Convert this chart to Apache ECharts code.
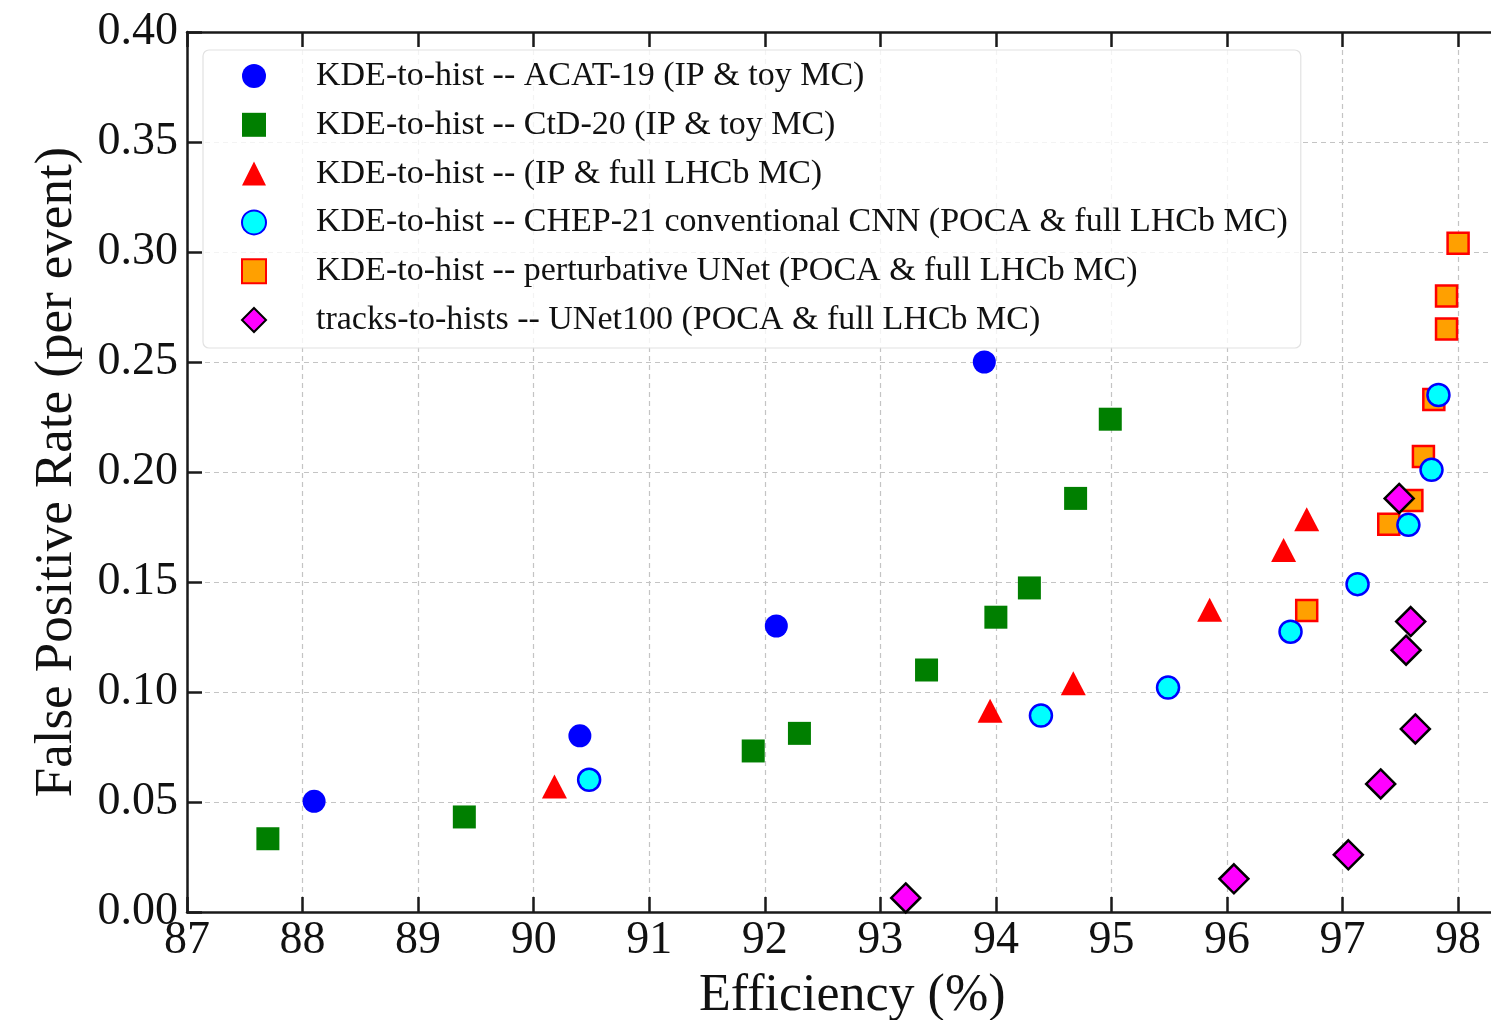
<!DOCTYPE html>
<html>
<head>
<meta charset="utf-8">
<script src="https://cdn.jsdelivr.net/npm/echarts@6/dist/echarts.min.js"></script>
<style>
html,body{margin:0;padding:0;background:#fff;}
#chart{width:1491px;height:1020px;}
</style>
</head>
<body>
<div id="chart"></div>
<script>
// ---- data ----
const seriesNames = [
  'KDE-to-hist -- ACAT-19 (IP & toy MC)',
  'KDE-to-hist -- CtD-20 (IP & toy MC)',
  'KDE-to-hist -- (IP & full LHCb MC)',
  'KDE-to-hist -- CHEP-21 conventional CNN (POCA & full LHCb MC)',
  'KDE-to-hist -- perturbative UNet (POCA & full LHCb MC)',
  'tracks-to-hists -- UNet100 (POCA & full LHCb MC)'
];
const acatEff = [88.10, 90.40, 92.10, 93.90];
const acatFpr = [0.0503, 0.0801, 0.130, 0.250];
const ctdEff = [87.70, 89.40, 91.90, 92.30, 93.40, 94.00, 94.29, 94.69, 94.99];
const ctdFpr = [0.0333, 0.0432, 0.0732, 0.0812, 0.110, 0.134, 0.1473, 0.188, 0.224];
const ipFullEff = [90.18, 93.95, 94.67, 95.85, 96.49, 96.69];
const ipFullFpr = [0.0571, 0.0915, 0.104, 0.1374, 0.1645, 0.1785];
const chepEff = [90.48, 94.39, 95.49, 96.55, 97.13, 97.57, 97.77, 97.83];
const chepFpr = [0.0601, 0.0893, 0.102, 0.1274, 0.149, 0.176, 0.201, 0.235];
const pertEff = [96.69, 97.40, 97.60, 97.70, 97.79, 97.90, 97.90, 98.00];
const pertFpr = [0.1371, 0.1762, 0.187, 0.207, 0.233, 0.265, 0.280, 0.304];
const unetEff = [93.22, 96.06, 97.05, 97.33, 97.63, 97.55, 97.59, 97.49];
const unetFpr = [0.0064, 0.0151, 0.026, 0.0582, 0.0832, 0.119, 0.132, 0.188];
const xTicks = [87, 88, 89, 90, 91, 92, 93, 94, 95, 96, 97, 98];
const yTicks = [0.00, 0.05, 0.10, 0.15, 0.20, 0.25, 0.30, 0.35, 0.40];

const zip = (xs, ys) => xs.map((x, i) => [x, ys[i]]);
const FONT = '"Liberation Serif", "DejaVu Serif", serif';

const chart = echarts.init(document.getElementById('chart'), null, {renderer: 'canvas'});

const axisLineStyle = {color: '#1a1a1a', width: 2.5};
const gridLine = {show: true, lineStyle: {color: '#c4c4c4', width: 1.2, type: [5, 4]}};

const option = {
  backgroundColor: '#ffffff',
  animation: false,
  grid: {left: 187, top: 32, width: 1330.6, height: 880, containLabel: false, outerBoundsMode: 'none'},
  legend: {
    orient: 'vertical',
    left: 203, top: 50,
    padding: [9, 13, 11, 38],
    itemWidth: 24, itemHeight: 24,
    itemGap: 14.8,
    backgroundColor: 'rgba(255,255,255,0.8)',
    borderColor: '#e2e2e2', borderWidth: 1.2, borderRadius: 6,
    selectedMode: false,
    textStyle: {fontFamily: FONT, fontSize: 34, color: '#111', lineHeight: 34, padding: [0, 0, 0, 45]},
    data: seriesNames
  },
  xAxis: [{
    type: 'value', min: 87, max: 98.515, interval: 1,
    position: 'bottom',
    name: 'Efficiency (%)', nameLocation: 'middle', nameGap: 58,
    nameTextStyle: {fontFamily: FONT, fontSize: 52, color: '#111'},
    axisLine: {show: true, lineStyle: axisLineStyle},
    axisTick: {show: true, inside: true, length: 15, lineStyle: {color: '#1a1a1a', width: 2.5}},
    axisLabel: {fontFamily: FONT, fontSize: 46, color: '#111', margin: 6,
      formatter: v => (xTicks.indexOf(Math.round(v * 1000) / 1000) >= 0 ? String(v) : '')},
    splitLine: gridLine
  }, {
    type: 'value', min: 87, max: 98.515, interval: 1,
    position: 'top',
    axisLine: {show: true, onZero: false, lineStyle: axisLineStyle},
    axisTick: {show: true, inside: true, length: 15, lineStyle: {color: '#1a1a1a', width: 2.5}},
    axisLabel: {show: false},
    splitLine: {show: false}
  }],
  yAxis: [{
    type: 'value', min: 0, max: 0.40, interval: 0.05,
    name: 'False Positive Rate (per event)', nameLocation: 'middle', nameGap: 103,
    nameTextStyle: {fontFamily: FONT, fontSize: 53, color: '#111'},
    axisLine: {show: true, lineStyle: axisLineStyle},
    axisTick: {show: true, inside: true, length: 15, lineStyle: {color: '#1a1a1a', width: 2.5}},
    axisLabel: {fontFamily: FONT, fontSize: 46, color: '#111', margin: 9,
      formatter: v => {
        const r = Math.round(v * 100) / 100;
        return yTicks.some(t => Math.abs(t - r) < 1e-9) ? r.toFixed(2) : '';
      }},
    splitLine: gridLine
  }],
  series: [
    {name: seriesNames[0], type: 'scatter', data: zip(acatEff, acatFpr),
      symbol: 'circle', symbolSize: 23, z: 2,
      itemStyle: {color: '#0000ff', opacity: 1}},
    {name: seriesNames[1], type: 'scatter', data: zip(ctdEff, ctdFpr),
      symbol: 'rect', symbolSize: 23, z: 2,
      itemStyle: {color: '#007f00', opacity: 1}},
    {name: seriesNames[2], type: 'scatter', data: zip(ipFullEff, ipFullFpr),
      symbol: 'triangle', symbolSize: [25, 24], z: 2,
      itemStyle: {color: '#ff0000', opacity: 1}},
    {name: seriesNames[3], type: 'scatter', data: zip(chepEff, chepFpr),
      symbol: 'circle', symbolSize: 22, z: 4,
      itemStyle: {color: '#00ffff', borderColor: '#0000ff', borderWidth: 2.5, opacity: 1}},
    {name: seriesNames[4], type: 'scatter', data: zip(pertEff, pertFpr),
      symbol: 'rect', symbolSize: 21, z: 3,
      itemStyle: {color: '#ffa000', borderColor: '#ff0000', borderWidth: 2.5, opacity: 1}},
    {name: seriesNames[5], type: 'scatter', data: zip(unetEff, unetFpr),
      symbol: 'diamond', symbolSize: 29, z: 5,
      itemStyle: {color: '#ff00ff', borderColor: '#000000', borderWidth: 2.5, opacity: 1}}
  ]
};
chart.setOption(option);
</script>
</body>
</html>
